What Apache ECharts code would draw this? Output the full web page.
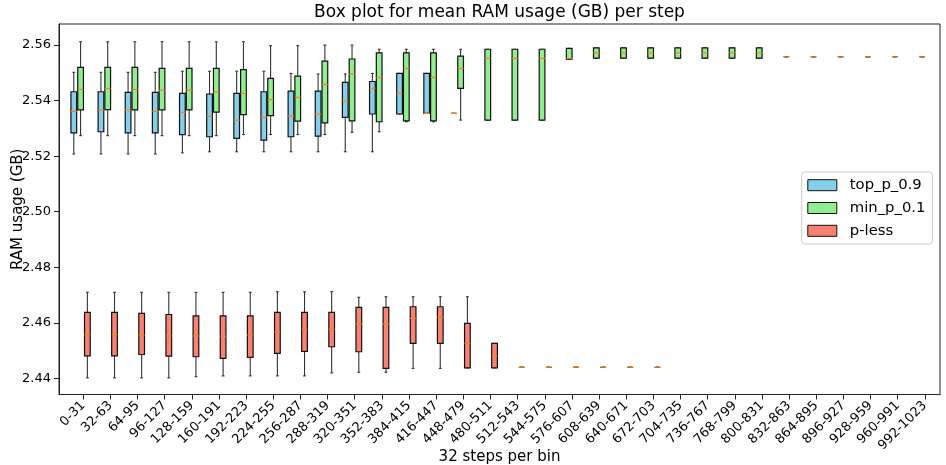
<!DOCTYPE html>
<html>
<head>
<meta charset="utf-8">
<script src="https://cdn.jsdelivr.net/npm/echarts@6/dist/echarts.min.js"></script>
<style>
  html, body { margin: 0; padding: 0; background: #fff; }
  #chart { width: 946px; height: 465px; }
</style>
</head>
<body>
<div id="chart"></div>
<script>
// Bin labels along the x axis (32 steps per bin)
const categories = [
  '0-31', '32-63', '64-95', '96-127', '128-159', '160-191', '192-223', '224-255',
  '256-287', '288-319', '320-351', '352-383', '384-415', '416-447', '448-479', '480-511',
  '512-543', '544-575', '576-607', '608-639', '640-671', '672-703', '704-735', '736-767',
  '768-799', '800-831', '832-863', '864-895', '896-927', '928-959', '960-991', '992-1023'
];

// Box statistics per bin: [min, q1, median, q3, max]; null where a run has no data
const topP09 = [
  [2.5208, 2.5284, 2.5362, 2.5432, 2.5502],
  [2.5208, 2.5288, 2.5366, 2.5432, 2.5502],
  [2.5208, 2.5284, 2.5366, 2.5430, 2.5502],
  [2.5208, 2.5284, 2.5362, 2.5430, 2.5502],
  [2.5212, 2.5278, 2.5358, 2.5426, 2.5506],
  [2.5216, 2.5270, 2.5344, 2.5424, 2.5506],
  [2.5216, 2.5264, 2.5330, 2.5426, 2.5506],
  [2.5216, 2.5258, 2.5340, 2.5432, 2.5506],
  [2.5216, 2.5270, 2.5344, 2.5434, 2.5498],
  [2.5216, 2.5272, 2.5352, 2.5434, 2.5496],
  [2.5216, 2.5340, 2.5399, 2.5466, 2.5496],
  [2.5216, 2.5352, 2.5444, 2.5469, 2.5498],
  [2.5352, 2.5352, 2.5426, 2.5498, 2.5498],
  [2.5354, 2.5354, 2.5354, 2.5498, 2.5498],
  [2.5354, 2.5354, 2.5354, 2.5354, 2.5354],
  null, null, null, null, null, null, null, null,
  null, null, null, null, null, null, null, null, null
];

const minP01 = [
  [2.5274, 2.5367, 2.5440, 2.5520, 2.5612],
  [2.5274, 2.5368, 2.5444, 2.5520, 2.5612],
  [2.5274, 2.5367, 2.5440, 2.5520, 2.5612],
  [2.5274, 2.5367, 2.5438, 2.5516, 2.5612],
  [2.5274, 2.5367, 2.5438, 2.5516, 2.5612],
  [2.5274, 2.5359, 2.5432, 2.5516, 2.5612],
  [2.5278, 2.5350, 2.5426, 2.5512, 2.5612],
  [2.5278, 2.5346, 2.5404, 2.5480, 2.5598],
  [2.5278, 2.5326, 2.5412, 2.5488, 2.5598],
  [2.5278, 2.5320, 2.5458, 2.5542, 2.5600],
  [2.5286, 2.5327, 2.5496, 2.5550, 2.5600],
  [2.5288, 2.5324, 2.5484, 2.5572, 2.5585],
  [2.5324, 2.5327, 2.5516, 2.5572, 2.5585],
  [2.5324, 2.5327, 2.5484, 2.5572, 2.5585],
  [2.5330, 2.5444, 2.5516, 2.5560, 2.5585],
  [2.5330, 2.5330, 2.5552, 2.5585, 2.5585],
  [2.5330, 2.5330, 2.5552, 2.5585, 2.5585],
  [2.5330, 2.5330, 2.5552, 2.5585, 2.5585],
  [2.5549, 2.5549, 2.5552, 2.5588, 2.5588],
  [2.5553, 2.5553, 2.5572, 2.5590, 2.5590],
  [2.5553, 2.5553, 2.5572, 2.5590, 2.5590],
  [2.5553, 2.5553, 2.5572, 2.5590, 2.5590],
  [2.5553, 2.5553, 2.5572, 2.5590, 2.5590],
  [2.5553, 2.5553, 2.5572, 2.5590, 2.5590],
  [2.5553, 2.5553, 2.5572, 2.5590, 2.5590],
  [2.5553, 2.5553, 2.5572, 2.5590, 2.5590],
  [2.5558, 2.5558, 2.5558, 2.5558, 2.5558],
  [2.5558, 2.5558, 2.5558, 2.5558, 2.5558],
  [2.5558, 2.5558, 2.5558, 2.5558, 2.5558],
  [2.5558, 2.5558, 2.5558, 2.5558, 2.5558],
  [2.5558, 2.5558, 2.5558, 2.5558, 2.5558],
  [2.5558, 2.5558, 2.5558, 2.5558, 2.5558]
];

const pLess = [
  [2.4402, 2.4481, 2.4558, 2.4638, 2.4710],
  [2.4402, 2.4481, 2.4558, 2.4638, 2.4710],
  [2.4402, 2.4486, 2.4556, 2.4634, 2.4710],
  [2.4402, 2.4480, 2.4553, 2.4630, 2.4710],
  [2.4406, 2.4478, 2.4553, 2.4625, 2.4710],
  [2.4409, 2.4472, 2.4552, 2.4625, 2.4710],
  [2.4409, 2.4476, 2.4556, 2.4625, 2.4710],
  [2.4409, 2.4490, 2.4566, 2.4638, 2.4712],
  [2.4409, 2.4497, 2.4577, 2.4638, 2.4712],
  [2.4420, 2.4514, 2.4577, 2.4638, 2.4712],
  [2.4422, 2.4496, 2.4595, 2.4656, 2.4692],
  [2.4422, 2.4436, 2.4595, 2.4656, 2.4694],
  [2.4436, 2.4526, 2.4616, 2.4658, 2.4694],
  [2.4436, 2.4526, 2.4620, 2.4658, 2.4694],
  [2.4438, 2.4438, 2.4526, 2.4598, 2.4694],
  [2.4438, 2.4438, 2.4480, 2.4526, 2.4526],
  [2.4440, 2.4440, 2.4440, 2.4440, 2.4440],
  [2.4440, 2.4440, 2.4440, 2.4440, 2.4440],
  [2.4440, 2.4440, 2.4440, 2.4440, 2.4440],
  [2.4440, 2.4440, 2.4440, 2.4440, 2.4440],
  [2.4440, 2.4440, 2.4440, 2.4440, 2.4440],
  [2.4440, 2.4440, 2.4440, 2.4440, 2.4440],
  null, null, null, null, null, null, null, null, null, null
];

const yTicks = [2.44, 2.46, 2.48, 2.50, 2.52, 2.54, 2.56];

const seriesDefs = [
  { name: 'top_p_0.9', data: topP09, color: '#87CEEB', offset: -0.35 },
  { name: 'min_p_0.1', data: minP01, color: '#90EE90', offset: -0.10 },
  { name: 'p-less',    data: pLess,  color: '#FA8072', offset: 0.15 }
];

const BOX_W = 0.21;
const FONT = '"DejaVu Sans", sans-serif';

function renderBox(params, api) {
  const x = api.value(0);
  const vMin = api.value(1), q1 = api.value(2), med = api.value(3), q3 = api.value(4), vMax = api.value(5);
  const xc = api.coord([x, med])[0];
  const half = api.size([BOX_W, 0])[0] / 2;
  const capHalf = half / 2;
  const yMin = api.coord([x, vMin])[1];
  const yQ1 = api.coord([x, q1])[1];
  const yMed = api.coord([x, med])[1];
  const yQ3 = api.coord([x, q3])[1];
  const yMax = api.coord([x, vMax])[1];
  const fill = api.visual('color');
  const whisker = { stroke: '#333', lineWidth: 1.1 };
  return {
    type: 'group',
    children: [
      { type: 'line', shape: { x1: xc, y1: yMax, x2: xc, y2: yQ3 }, style: whisker },
      { type: 'line', shape: { x1: xc, y1: yQ1, x2: xc, y2: yMin }, style: whisker },
      { type: 'line', shape: { x1: xc - capHalf, y1: yMax, x2: xc + capHalf, y2: yMax }, style: whisker },
      { type: 'line', shape: { x1: xc - capHalf, y1: yMin, x2: xc + capHalf, y2: yMin }, style: whisker },
      {
        type: 'rect',
        shape: { x: xc - half, y: yQ3, width: half * 2, height: yQ1 - yQ3 },
        style: { fill: fill, stroke: '#111', lineWidth: 1.2 }
      },
      {
        type: 'line',
        shape: { x1: xc - half, y1: yMed, x2: xc + half, y2: yMed },
        style: { stroke: '#ff7f0e', lineWidth: 1.2 }
      }
    ]
  };
}

const series = seriesDefs.map(def => ({
  name: def.name,
  type: 'custom',
  renderItem: renderBox,
  itemStyle: { color: def.color },
  encode: { x: 0, y: [1, 2, 3, 4, 5] },
  data: def.data
    .map((stats, i) => stats ? [i + def.offset].concat(stats) : null)
    .filter(d => d !== null)
}));

const chart = echarts.init(document.getElementById('chart'), null, { renderer: 'canvas' });

chart.setOption({
  animation: false,
  backgroundColor: '#ffffff',
  textStyle: { fontFamily: FONT },
  grid: {
    left: 59, right: 6, top: 24, bottom: 70.5,
    outerBoundsMode: 'none',
    containLabel: false,
    show: true, borderColor: '#222', borderWidth: 1, backgroundColor: 'transparent'
  },
  graphic: [{
    type: 'text',
    x: 499.5,
    y: 13,
    style: {
      text: 'Box plot for mean RAM usage (GB) per step',
      font: '17px "DejaVu Sans", sans-serif',
      fill: '#000',
      textAlign: 'center',
      textVerticalAlign: 'middle'
    }
  }],
  legend: {
    orient: 'vertical',
    left: 801.7,
    top: 172,
    icon: 'rect',
    itemWidth: 29,
    itemHeight: 11,
    itemGap: 6.8,
    padding: [5.2, 7, 5.2, 5.6],
    backgroundColor: '#ffffff',
    borderColor: '#cccccc',
    borderWidth: 1,
    borderRadius: 3,
    textStyle: {
      fontFamily: FONT, fontSize: 14.8, color: '#000', lineHeight: 16,
      padding: [0, 0, 0, 8]
    },
    data: seriesDefs.map(def => ({
      name: def.name,
      itemStyle: { color: def.color, borderColor: '#111', borderWidth: 1 }
    }))
  },
  xAxis: {
    type: 'value',
    min: -0.895,
    max: 31.56,
    name: '32 steps per bin',
    nameLocation: 'middle',
    nameGap: 55.5,
    nameMoveOverlap: false,
    nameTextStyle: { fontFamily: FONT, fontSize: 15, color: '#000' },
    axisLine: { show: true, onZero: false, lineStyle: { color: '#222', width: 1 } },
    axisTick: {
      show: true, length: 5, inside: false,
      customValues: categories.map((_, i) => i),
      lineStyle: { color: '#222', width: 1 }
    },
    axisLabel: {
      show: true,
      customValues: categories.map((_, i) => i),
      formatter: v => categories[Math.round(v)],
      rotate: 45,
      margin: 9,
      fontFamily: FONT, fontSize: 13, color: '#000'
    },
    splitLine: { show: false }
  },
  yAxis: {
    type: 'value',
    min: 2.4342,
    max: 2.5676,
    name: 'RAM usage (GB)',
    nameLocation: 'middle',
    nameGap: 33,
    nameMoveOverlap: false,
    nameTextStyle: { fontFamily: FONT, fontSize: 15, color: '#000' },
    axisLine: { show: true, onZero: false, lineStyle: { color: '#222', width: 1 } },
    axisTick: {
      show: true, length: 5, inside: false,
      customValues: yTicks,
      lineStyle: { color: '#222', width: 1 }
    },
    axisLabel: {
      show: true,
      customValues: yTicks,
      formatter: v => v.toFixed(2),
      margin: 8,
      fontFamily: FONT, fontSize: 13, color: '#000'
    },
    splitLine: { show: false }
  },
  series: series
});
</script>
</body>
</html>
